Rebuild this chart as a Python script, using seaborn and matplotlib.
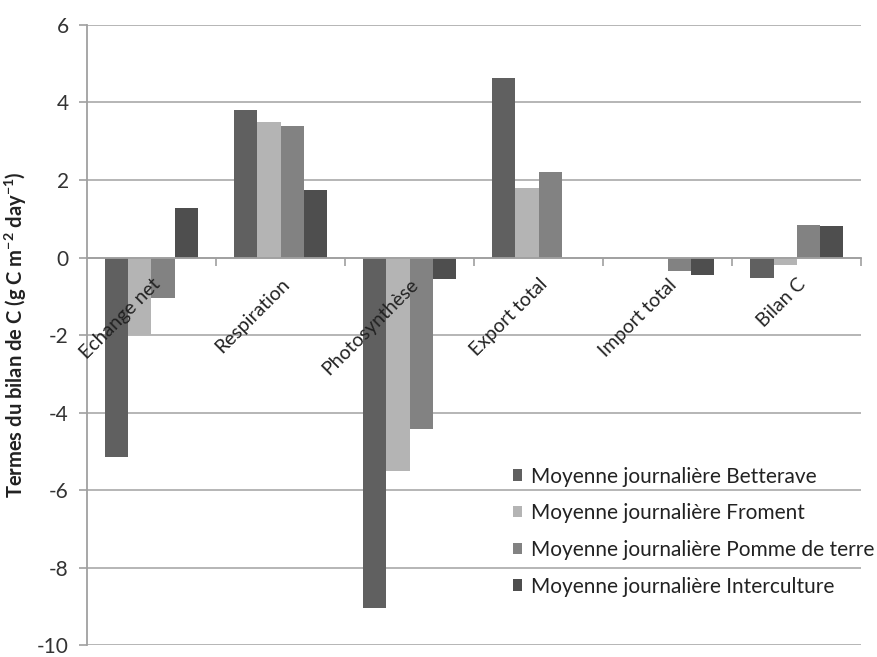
import pandas as pd
import matplotlib
matplotlib.use("Agg")
import matplotlib.pyplot as plt
import seaborn as sns
from matplotlib.ticker import FixedLocator

categories = ["Echange net", "Respiration", "Photosynthèse", "Export total", "Import total", "Bilan C"]
series = ["Moyenne journalière Betterave", "Moyenne journalière Froment",
          "Moyenne journalière Pomme de terre", "Moyenne journalière Interculture"]
betterave = [-5.15, 3.80, -9.05, 4.62, 0.0, -0.54]
froment = [-2.00, 3.50, -5.50, 1.80, 0.0, -0.18]
pomme = [-1.05, 3.40, -4.42, 2.20, -0.34, 0.84]
interculture = [1.28, 1.74, -0.55, 0.0, -0.46, 0.81]
colors = ["#606060", "#b4b4b4", "#828282", "#4e4e4e"]

rows = []
for name, vals in zip(series, [betterave, froment, pomme, interculture]):
    for cat, v in zip(categories, vals):
        rows.append({"cat": cat, "serie": name, "val": v})
df = pd.DataFrame(rows)

sns.set_style("white")
plt.rcParams["font.family"] = ["Lato", "DejaVu Sans"]
plt.rcParams["mathtext.default"] = "regular"
plt.rcParams["axes.unicode_minus"] = False

fig = plt.figure(figsize=(8.78, 6.57), dpi=100)
ax = fig.add_axes([0.099, 0.018, 0.882, 0.944])

sns.barplot(data=df, x="cat", y="val", hue="serie", palette=colors,
            width=0.72, gap=0, saturation=1, edgecolor="none", ax=ax)

ax.set_ylim(-10, 6)
ax.set_xlim(-0.5, 5.5)
ax.set_yticks(range(-10, 7, 2))
ax.yaxis.grid(True, color="#b0b0b0", linewidth=1.3)
ax.set_axisbelow(True)
# labels of the categories sit over the bars
ax.xaxis.set_zorder(3)

for s in ["top", "right"]:
    ax.spines[s].set_visible(False)
ax.spines["left"].set_color("#a0a0a0")
ax.spines["left"].set_linewidth(1.3)
ax.spines["bottom"].set_position(("data", 0))
ax.spines["bottom"].set_color("#a0a0a0")
ax.spines["bottom"].set_linewidth(1.3)

ax.tick_params(axis="y", direction="out", length=6, width=1.2, color="#a0a0a0",
               labelsize=15, labelcolor="#333333", pad=7, left=True)
ax.xaxis.set_minor_locator(FixedLocator([0.5, 1.5, 2.5, 3.5, 4.5, 5.5]))
ax.tick_params(axis="x", which="minor", direction="out", length=6, width=1.2,
               color="#a0a0a0", bottom=True)
ax.tick_params(axis="x", which="major", length=0, pad=13, labelsize=14,
               labelcolor="#222222")
ax.set_xticks(range(len(categories)))
ax.set_xticklabels(categories, rotation=45, ha="right", va="top",
                   rotation_mode="anchor")

ax.set_xlabel("")
ax.set_ylabel("Termes du bilan de C (g C m$^{-2}$ day$^{-1}$)", fontsize=14.5,
              fontweight="bold", color="#222222", labelpad=6)

ax.legend(loc="center left", bbox_to_anchor=(513 / 878, 0.191),
          bbox_transform=fig.transFigure, frameon=False, borderpad=0,
          borderaxespad=0, fontsize=15, handlelength=0.45, handleheight=0.45,
          handletextpad=0.4, labelspacing=0.8, labelcolor="#222222")

fig.savefig("out.png", dpi=100)
